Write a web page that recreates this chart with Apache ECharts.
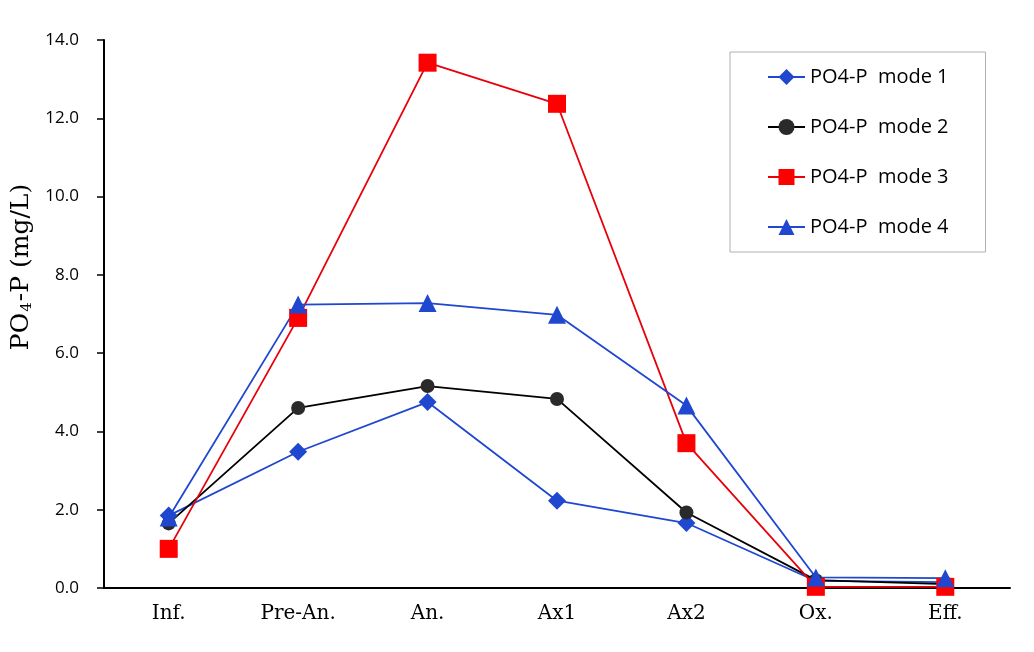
<!DOCTYPE html>
<html><head><meta charset="utf-8">
<script src="https://cdn.jsdelivr.net/npm/echarts@6/dist/echarts.min.js"></script>
<style>html,body{margin:0;padding:0;background:#fff}#c{width:1034px;height:652px}</style>
</head><body><div id="c"></div>
<script>
const categories = ['Inf.', 'Pre-An.', 'An.', 'Ax1', 'Ax2', 'Ox.', 'Eff.'];
const mode1 = [1.85, 3.48, 4.75, 2.23, 1.66, 0.18, 0.15];
const mode2 = [1.65, 4.6, 5.16, 4.83, 1.93, 0.2, 0.1];
const mode3 = [1.0, 6.9, 13.42, 12.37, 3.7, 0.03, 0.03];
const mode4 = [1.8, 7.24, 7.28, 6.98, 4.66, 0.27, 0.25];
const seriesNames = ['PO4-P  mode 1', 'PO4-P  mode 2', 'PO4-P  mode 3', 'PO4-P  mode 4'];

const chart = echarts.init(document.getElementById('c'));
const blue = '#1f47cf', red = '#e8000b';
function mk(name, data, color, lineColor, symbol, size) {
  return {
    name, type: 'line', data, symbol, symbolSize: size,
    itemStyle: { color, borderWidth: 0 },
    lineStyle: { color: lineColor, width: 1.8 },
    emphasis: { disabled: true }
  };
}
chart.setOption({
  animation: false,
  grid: { left: 104, right: 24, top: 40, bottom: 64 },
  legend: {
    orient: 'vertical', left: 730, top: 52,
    padding: [15, 37, 15, 37], itemGap: 30, itemWidth: 37, itemHeight: 20,
    borderColor: '#b0b0b0', borderWidth: 1,
    textStyle: { fontFamily: 'Open Sans', fontSize: 20, color: '#000' },
    data: seriesNames
  },
  xAxis: {
    type: 'category', data: categories, boundaryGap: true,
    axisLine: { lineStyle: { color: '#000', width: 2 } },
    axisTick: { alignWithLabel: false, length: 6, lineStyle: { color: '#000', width: 1.5 } },
    axisLabel: { fontFamily: 'DejaVu Serif', fontSize: 20, color: '#000', margin: 16 }
  },
  yAxis: {
    type: 'value', min: 0, max: 14, interval: 2,
    splitLine: { show: false },
    axisLine: { show: true, lineStyle: { color: '#000', width: 2 } },
    axisTick: { show: true, inside: false, length: 7, lineStyle: { color: '#000', width: 1.5 } },
    axisLabel: { fontFamily: 'Open Sans', fontSize: 17, color: '#000', margin: 25, formatter: v => v.toFixed(1) },
    name: '{a|PO}{s|4}{a|-P (mg/L)}', nameLocation: 'middle', nameGap: 68,
    nameTextStyle: {
      padding: [0, 0, 0, 94],
      rich: {
        a: { fontFamily: 'DejaVu Serif', fontSize: 25, color: '#000' },
        s: { fontFamily: 'DejaVu Serif', fontSize: 15, color: '#000', verticalAlign: 'bottom', padding: [10, 1, 0, 1] }
      }
    }
  },
  series: [
    mk(seriesNames[0], mode1, blue, blue, 'diamond', 18),
    mk(seriesNames[1], mode2, '#2a2a2a', '#000', 'circle', 14),
    mk(seriesNames[2], mode3, '#ff0000', red, 'rect', 18),
    mk(seriesNames[3], mode4, blue, blue, 'triangle', 18)
  ]
});
</script></body></html>
